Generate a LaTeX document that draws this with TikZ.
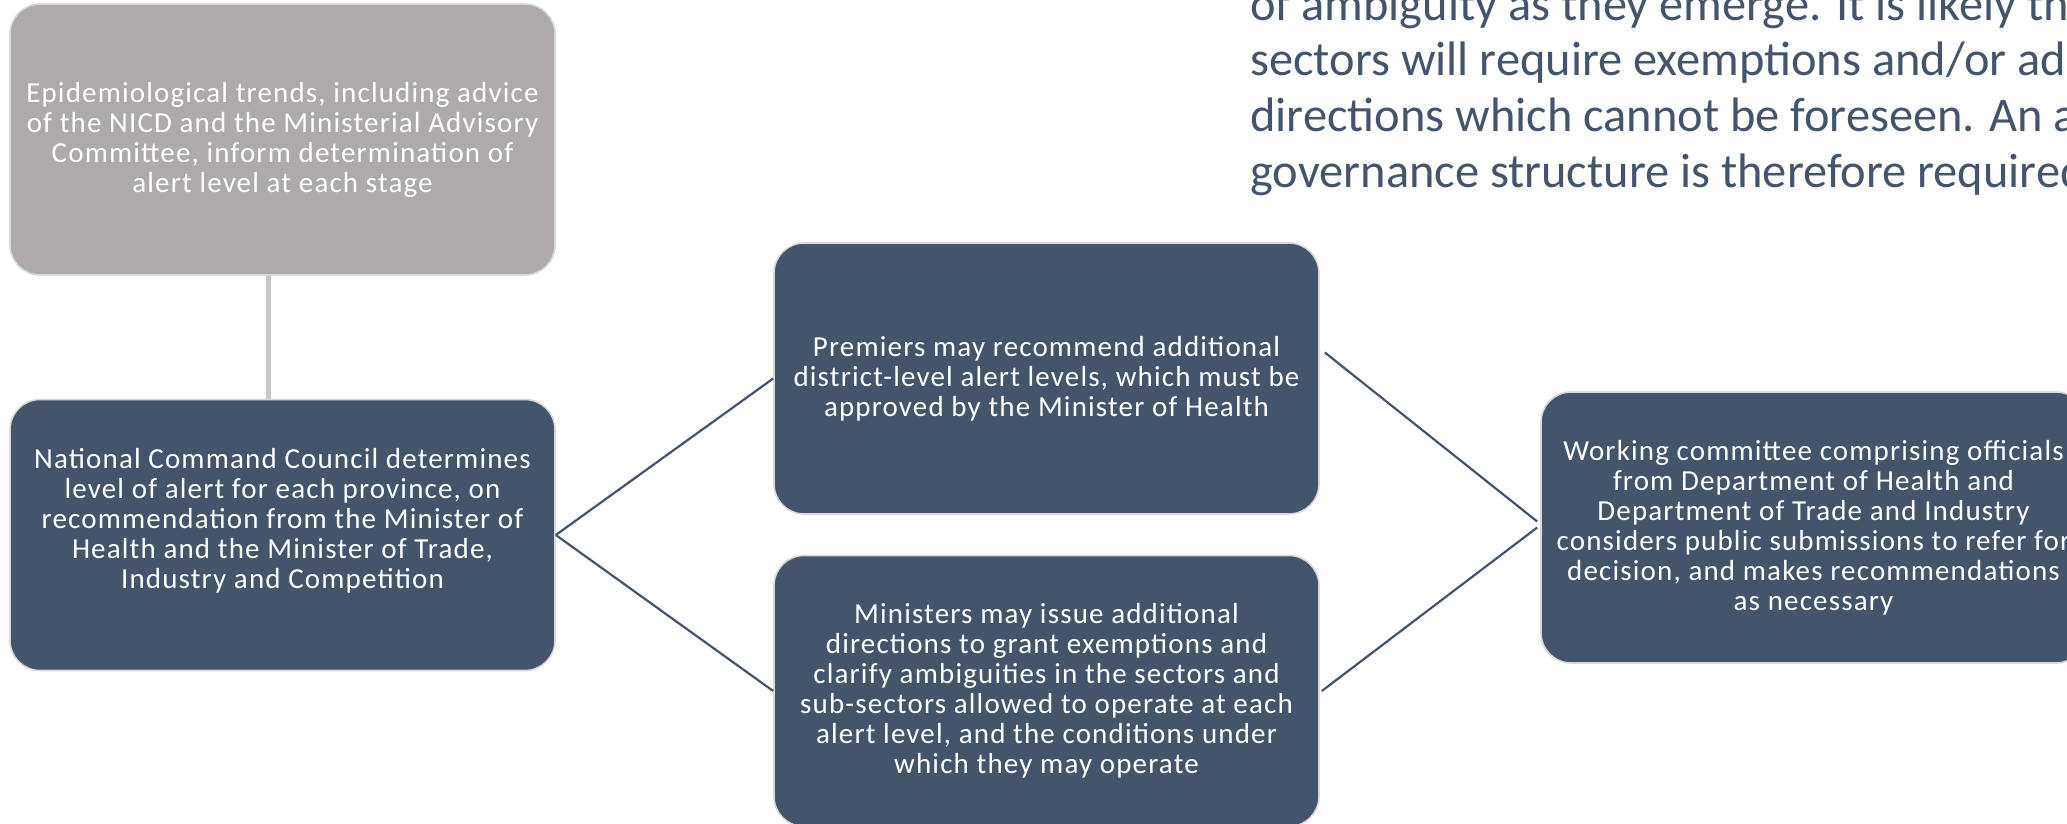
\documentclass[tikz,border=0pt]{standalone}
\usepackage{fontspec}
\setmainfont{Carlito}
\usetikzlibrary{calc}
\definecolor{slate}{HTML}{44546A}
\definecolor{stone}{HTML}{AEAAAA}
\newfontfamily\boxfont[LetterSpace=4]{Carlito}

\begin{document}
\begin{tikzpicture}[x=0.5pt,y=-0.5pt,
  box/.style={rectangle, rounded corners=15pt, fill=slate, draw=white!85!black,
    line width=0.8pt, text=white, align=center, minimum width=272.5pt,
    minimum height=135.5pt, font=\boxfont\fontsize{14.5}{15}\selectfont},
  greybox/.style={box, fill=stone},
  link/.style={draw=slate, line width=1.1pt},
  stem/.style={draw=white!78!black, line width=2.5pt}]
\useasboundingbox (0,0) rectangle (2067,824);
\clip (0,0) rectangle (2067,824);

\node[greybox] (epi) at (282.5,139.5) {Epidemiological trends, including advice\\ of the NICD and the Ministerial Advisory\\ Committee, inform determination of\\ alert level at each stage};
\node[box] (ncc) at (282.5,535) {National Command Council determines\\ level of alert for each province, on\\ recommendation from the Minister of\\ Health and the Minister of Trade,\\ Industry and Competition\\[2pt]};
\node[box] (prem) at (1046.5,378.5) {Premiers may recommend additional\\ district-level alert levels, which must be\\ approved by the Minister of Health};
\node[box] (mini) at (1046.5,691) {Ministers may issue additional\\ directions to grant exemptions and\\ clarify ambiguities in the sectors and\\ sub-sectors allowed to operate at each\\ alert level, and the conditions under\\ which they may operate};
\node[box] (work) at (1813.5,527.5) {Working committee comprising officials\\ from Department of Health and\\ Department of Trade and Industry\\ considers public submissions to refer for\\ decision, and makes recommendations\\ as necessary};

% text running above the chart
\node[anchor=base west, align=left, inner sep=0pt, text=slate,
  font=\fontsize{24.2}{27.75}\selectfont] (note) at (1250,187)
  {of ambiguity as they emerge. It is likely th\\ sectors will require exemptions and/or add\\ directions which cannot be foreseen. An a\\ governance structure is therefore required};

\draw[stem] ([xshift=-7pt]epi.south) -- ([xshift=-7pt]ncc.north);
\draw[link] (ncc.east) -- (prem.west);
\draw[link] (ncc.east) -- (mini.west);
\draw[link] ([shift={(5,-26)}]prem.east) -- ([shift={(-3,-6)}]work.west);
\draw[link] ([xshift=1pt]mini.east) -- ([xshift=-1.5pt]work.west);
\end{tikzpicture}
\end{document}
